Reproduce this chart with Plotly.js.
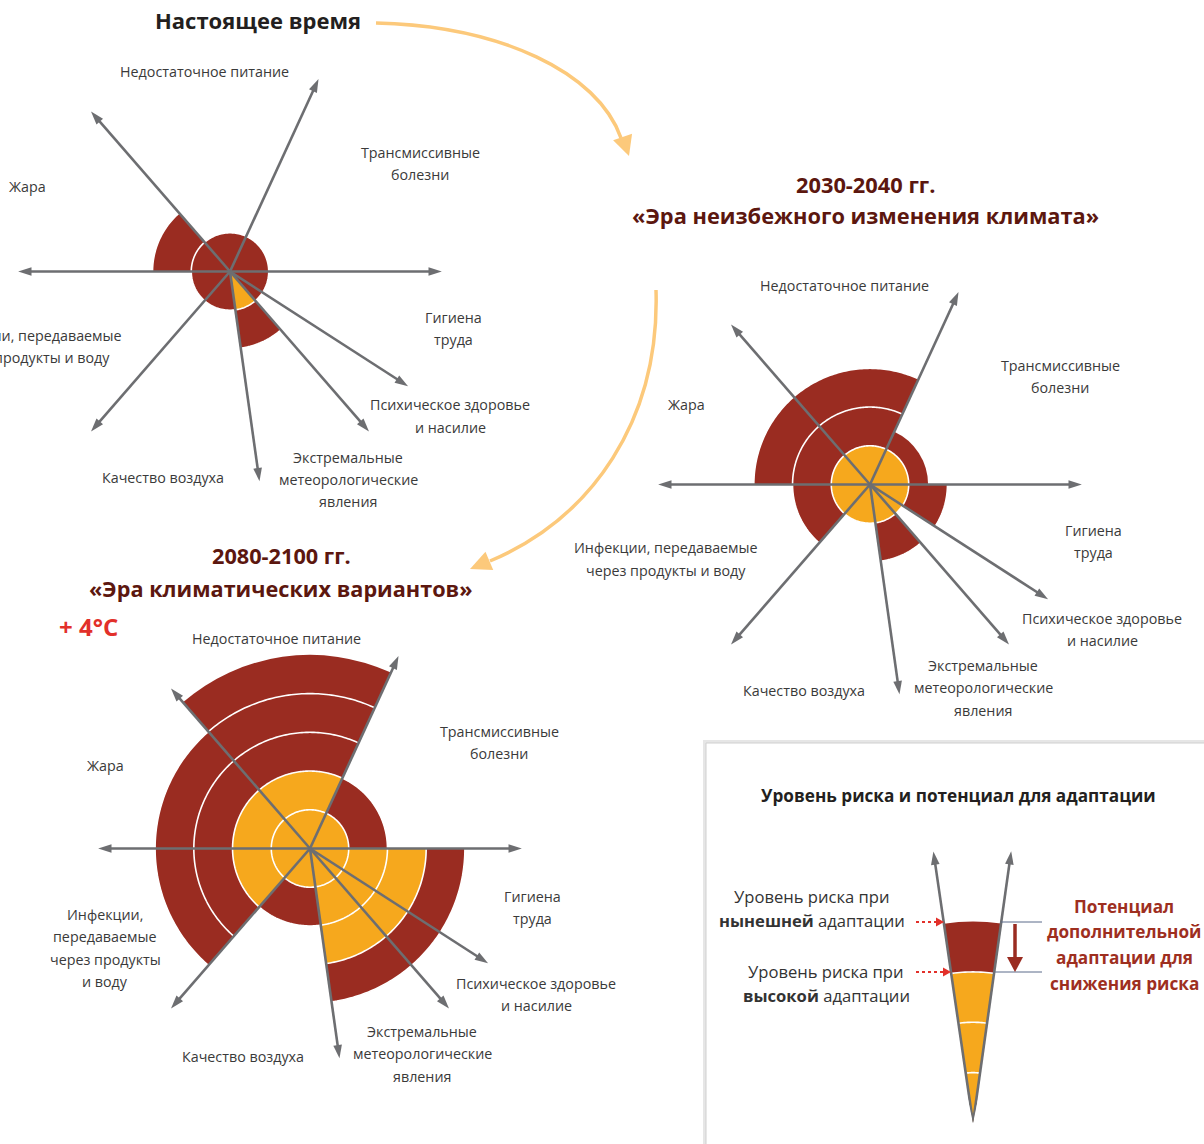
<!DOCTYPE html>
<html><head><meta charset="utf-8">
<script src="https://cdn.plot.ly/plotly-3.0.1.min.js"></script>
<style>html,body{margin:0;padding:0;background:#fff;}#chart{width:1204px;height:1144px;}</style>
</head><body><div id="chart"></div>
<script>
// ---------- DATA ----------
const categories = ['Трансмиссивные болезни','Недостаточное питание','Жара',
  'Инфекции, передаваемые через продукты и воду','Качество воздуха',
  'Экстремальные метеорологические явления','Психическое здоровье и насилие','Гигиена труда'];
const sectorBounds = [0, 65.3, 131, 180, 229, 278, 311, 327.2, 360];   // degrees, ccw from east
// risk level at current adaptation (dark red) and at high adaptation (orange)
const presentCurrent = [1, 1, 2, 1, 1, 2, 1, 1];
const presentHigh    = [0, 0, 0, 0, 0, 1, 0, 0];
const era2030Current = [1.5, 3, 3, 2, 1, 2, 1, 2];
const era2030High    = [1, 1, 1, 1, 1, 1, 1, 1];
const era2080Current = [2, 5, 4, 4, 2, 4, 4, 4];
const era2080High    = [1, 2, 2, 2, 1, 3, 3, 3];
const legendBounds = [82, 98.3];
const legendCurrent = [4];
const legendHigh = [3];

// ---------- STYLE ----------
const W = 1204, H = 1144;
const DARK = '#9a2c21', ORANGE = '#f6a81d', GRAY = '#6d6e71', ARROWOR = '#fcc97b';
const FONT = 'Open Sans, sans-serif';
const X = px => px / W, Y = py => 1 - py / H;

const traces = [];
function sectorChart(sub, bounds, current, high, levels, lineEnd, tipR, arrowSize) {
  const mids = [], widths = [];
  for (let i = 0; i < bounds.length - 1; i++) {
    mids.push((bounds[i] + bounds[i + 1]) / 2);
    widths.push(bounds[i + 1] - bounds[i]);
  }
  traces.push({type: 'barpolar', subplot: sub, r: current, theta: mids, width: widths,
    marker: {color: DARK, line: {width: 0}}, hoverinfo: 'skip'});
  traces.push({type: 'barpolar', subplot: sub, r: high, theta: mids, width: widths,
    marker: {color: ORANGE, line: {width: 0}}, hoverinfo: 'skip'});
  // white level circles
  const cr = [], ct = [];
  levels.forEach(l => {
    for (let a = 0; a <= 360; a += 1) { cr.push(l); ct.push(a); }
    cr.push(null); ct.push(null);
  });
  traces.push({type: 'scatterpolar', subplot: sub, mode: 'lines', r: cr, theta: ct,
    line: {color: '#ffffff', width: 1.6}, hoverinfo: 'skip'});
  // rays
  const rays = [...new Set(bounds.map(b => b % 360))];
  const rr = [], rt = [];
  rays.forEach(a => { rr.push(0, lineEnd, null); rt.push(a, a, null); });
  traces.push({type: 'scatterpolar', subplot: sub, mode: 'lines', r: rr, theta: rt,
    line: {color: GRAY, width: 2.6}, hoverinfo: 'skip'});
  traces.push({type: 'scatterpolar', subplot: sub, mode: 'markers', r: rays.map(() => tipR), theta: rays,
    marker: {symbol: 'arrow', size: arrowSize, color: GRAY, angle: rays.map(a => 90 - a), line: {width: 0}},
    hoverinfo: 'skip'});
}
sectorChart('polar', sectorBounds, presentCurrent, presentHigh, [1, 2], 5.16, 5.47, 14);
sectorChart('polar2', sectorBounds, era2030Current, era2030High, [1, 2, 3], 5.16, 5.47, 14);
sectorChart('polar3', sectorBounds, era2080Current, era2080High, [1, 2, 3, 4], 5.16, 5.47, 14);
sectorChart('polar4', legendBounds, legendCurrent, legendHigh, [1, 2, 3], 5.2, 5.45, 14);

function polarLayout(cx, cy, R, range, extra) {
  return Object.assign({
    domain: {x: [X(cx - R), X(cx + R)], y: [Y(cy + R), Y(cy - R)]},
    bgcolor: 'rgba(0,0,0,0)', barmode: 'overlay', hole: 0,
    radialaxis: {visible: false, range: [0, range]},
    angularaxis: {visible: false, rotation: 0, direction: 'counterclockwise'}
  }, extra || {});
}

// ---------- TEXT ----------
const annotations = [];
function txt(text, x, y, size, color, bold, anchor) {
  annotations.push({xref: 'paper', yref: 'paper', x: X(x), y: Y(y), text: bold ? '<b>' + text + '</b>' : text,
    showarrow: false, xanchor: anchor || 'center', yanchor: 'middle',
    font: {family: FONT, size: size, color: color}});
}
function label(lines, cx, y0, gap, size) {
  lines.forEach((l, i) => txt(l, cx, y0 + i * (gap || 22.5), size || 14.3, '#3a3a3a'));
}
// chart 1
label(['Недостаточное питание'], 204, 71);
label(['Трансмиссивные', 'болезни'], 420, 152);
label(['Жара'], 27, 186);
label(['Гигиена', 'труда'], 453, 317);
label(['Инфекции, передаваемые', 'через продукты и воду'], 30, 335);
label(['Психическое здоровье', 'и насилие'], 450, 405);
label(['Экстремальные', 'метеорологические', 'явления'], 348, 457);
label(['Качество воздуха'], 163, 477);
// chart 2
label(['Недостаточное питание'], 844, 285);
label(['Трансмиссивные', 'болезни'], 1060, 365);
label(['Жара'], 686, 405);
label(['Гигиена', 'труда'], 1093, 530);
label(['Инфекции, передаваемые', 'через продукты и воду'], 666, 548);
label(['Психическое здоровье', 'и насилие'], 1102, 618);
label(['Экстремальные', 'метеорологические', 'явления'], 983, 665);
label(['Качество воздуха'], 804, 690);
// chart 3
label(['Недостаточное питание'], 276, 638);
label(['Трансмиссивные', 'болезни'], 499, 731);
label(['Жара'], 106, 765);
label(['Гигиена', 'труда'], 532, 896);
label(['Инфекции,', 'передаваемые', 'через продукты', 'и воду'], 105, 914);
label(['Психическое здоровье', 'и насилие'], 536, 983);
label(['Экстремальные', 'метеорологические', 'явления'], 422, 1031);
label(['Качество воздуха'], 243, 1056);
// headers
txt('Настоящее время', 258, 20, 22, '#231f20', true);
txt('2030-2040 гг.', 865, 184, 21.8, '#5c170f', true);
txt('«Эра неизбежного изменения климата»', 865, 216, 21.8, '#5c170f', true);
txt('2080-2100 гг.', 281, 555, 21.7, '#5c170f', true);
txt('«Эра климатических вариантов»', 281, 588, 21.7, '#5c170f', true);
txt('+ 4°C', 88, 626, 24, '#e2302a', true);
// legend texts
txt('Уровень риска и потенциал для адаптации', 958, 795, 17.2, '#231f20', true);
txt('Уровень риска при', 812, 896, 16.6, '#333333');
txt('<b>нынешней</b> адаптации', 812, 920, 16.6, '#333333');
txt('Уровень риска при', 826, 971, 16.6, '#333333');
txt('<b>высокой</b> адаптации', 826, 995, 16.6, '#333333');
['Потенциал', 'дополнительной', 'адаптации для', 'снижения риска'].forEach((l, i) =>
  txt(l, 1124, 906 + i * 25.7, 17.2, '#9e2f1f', true));

// ---------- SHAPES ----------
const P = (x, y) => X(x) + ',' + Y(y);
const shapes = [];
function head(tx, ty, dx, dy, len, hw, color) {
  const n = Math.hypot(dx, dy); dx /= n; dy /= n;
  const bx = tx - dx * len, by = ty - dy * len;
  const px = -dy * hw, py = dx * hw;
  shapes.push({type: 'path', xref: 'paper', yref: 'paper',
    path: 'M' + P(tx, ty) + ' L' + P(bx + px, by + py) + ' L' + P(bx - px, by - py) + ' Z',
    fillcolor: color, line: {width: 0}});
}
// legend box
shapes.push({type: 'rect', xref: 'paper', yref: 'paper', layer: 'below', x0: X(703), x1: X(1212), y0: Y(1150), y1: Y(740),
  fillcolor: '#e6e6e6', line: {width: 0}});
shapes.push({type: 'rect', xref: 'paper', yref: 'paper', layer: 'below', x0: X(706), x1: X(1212), y0: Y(1150), y1: Y(743),
  fillcolor: '#ffffff', line: {color: '#d0d0d0', width: 1}});
// orange timeline arrows
shapes.push({type: 'path', xref: 'paper', yref: 'paper',
  path: 'M' + P(376, 23) + ' C' + P(500, 26) + ' ' + P(598, 72) + ' ' + P(621, 138),
  line: {color: ARROWOR, width: 3.5}, fillcolor: 'rgba(0,0,0,0)'});
head(629, 156, 23, 68, 20, 10, ARROWOR);
shapes.push({type: 'path', xref: 'paper', yref: 'paper',
  path: 'M' + P(656, 290) + ' C' + P(660, 420) + ' ' + P(592, 518) + ' ' + P(490, 561),
  line: {color: ARROWOR, width: 3.5}, fillcolor: 'rgba(0,0,0,0)'});
head(470, 569, -102, 43, 21, 10, ARROWOR);
// legend guide lines
shapes.push({type: 'line', xref: 'paper', yref: 'paper', x0: X(1001), x1: X(1042), y0: Y(922), y1: Y(922), line: {color: '#5b6b8a', width: 1}});
shapes.push({type: 'line', xref: 'paper', yref: 'paper', x0: X(995), x1: X(1042), y0: Y(972), y1: Y(972), line: {color: '#5b6b8a', width: 1}});
shapes.push({type: 'line', xref: 'paper', yref: 'paper', x0: X(1015), x1: X(1015), y0: Y(924), y1: Y(958), line: {color: DARK, width: 3.5}});
head(1015, 972, 0, 1, 15, 8, DARK);
shapes.push({type: 'line', xref: 'paper', yref: 'paper', x0: X(916), x1: X(937), y0: Y(922), y1: Y(922), line: {color: '#e2302a', width: 2, dash: 'dot'}});
head(944, 922, 1, 0, 8, 4.5, '#e2302a');
shapes.push({type: 'line', xref: 'paper', yref: 'paper', x0: X(916), x1: X(944), y0: Y(972), y1: Y(972), line: {color: '#e2302a', width: 2, dash: 'dot'}});
head(951, 972, 1, 0, 8, 4.5, '#e2302a');

const layout = {
  width: W, height: H, margin: {l: 0, r: 0, t: 0, b: 0},
  paper_bgcolor: '#ffffff', showlegend: false,
  polar: polarLayout(230, 271.5, 213, 5.5),
  polar2: polarLayout(870, 484.5, 213, 5.5),
  polar3: polarLayout(310, 848.5, 213, 5.5),
  polar4: Object.assign(polarLayout(973, 984.5, 138.5, 5.5), {
    sector: [78, 102],
    domain: {x: [X(913), X(1033)], y: [Y(1123), Y(846)]}
  }),
  annotations: annotations, shapes: shapes
};
Plotly.newPlot('chart', traces, layout, {staticPlot: true, displayModeBar: false});
</script></body></html>
